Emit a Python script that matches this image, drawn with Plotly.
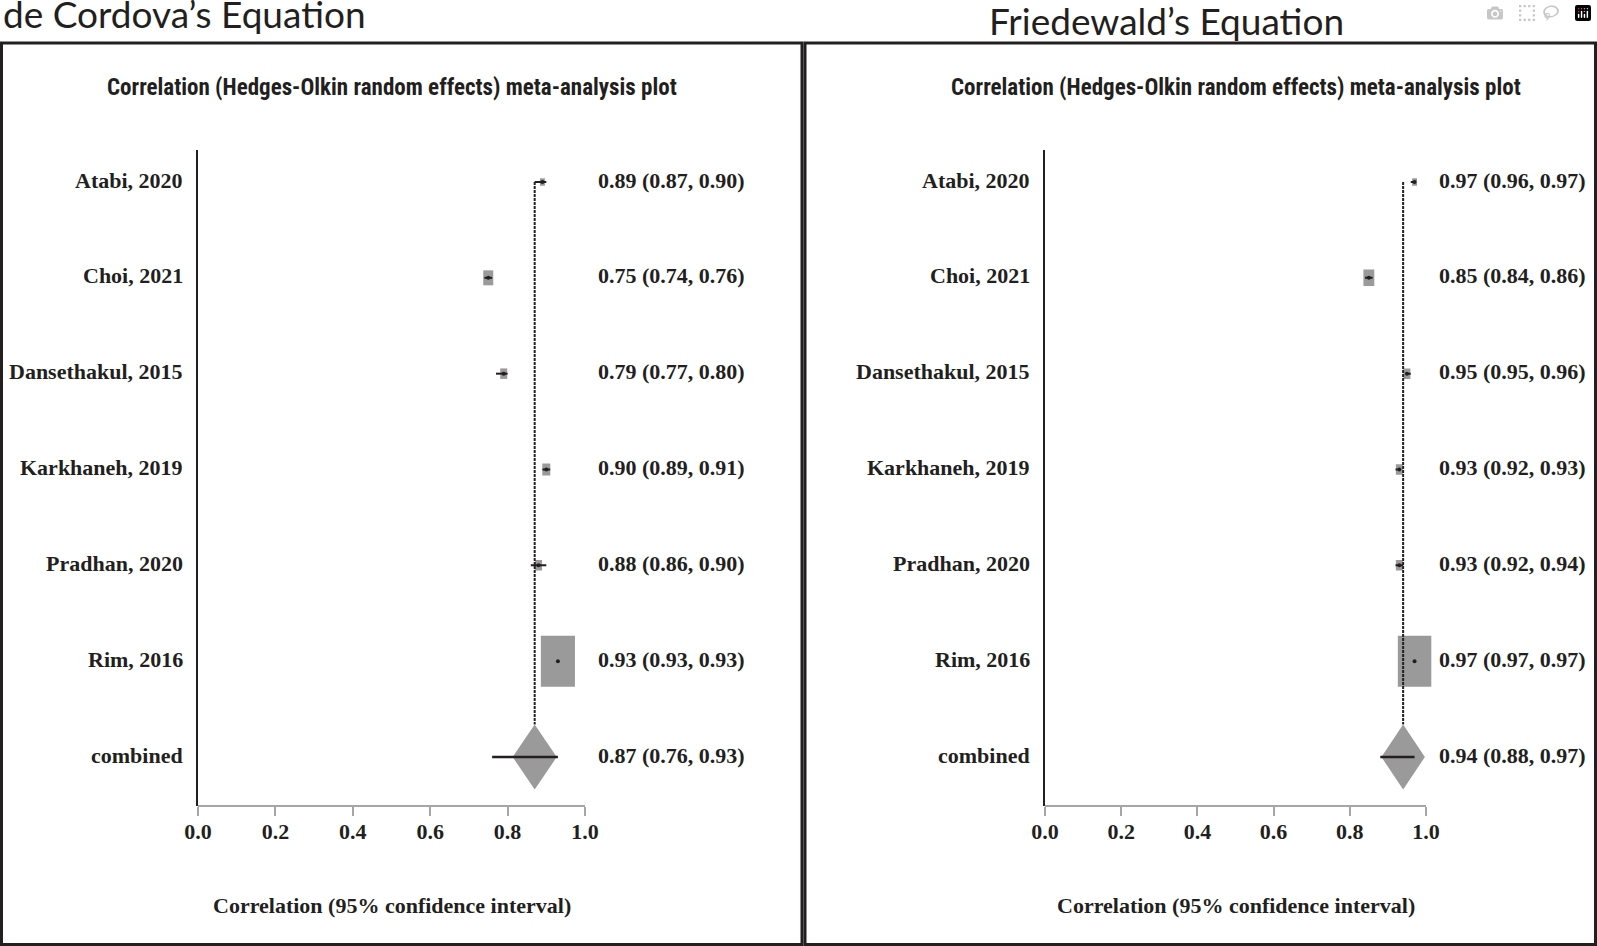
import plotly.graph_objects as go

# study rows (top to bottom), pooled row last
studies = ["Atabi, 2020", "Choi, 2021", "Dansethakul, 2015", "Karkhaneh, 2019", "Pradhan, 2020", "Rim, 2016"]
pooled_label = "combined"

# de Cordova's equation
cordova_r = [0.89, 0.75, 0.79, 0.90, 0.88, 0.93]
cordova_lo = [0.87, 0.74, 0.77, 0.89, 0.86, 0.93]
cordova_hi = [0.90, 0.76, 0.80, 0.91, 0.90, 0.93]
cordova_weight = [1.7, 6.9, 3.4, 4.4, 3.4, 80.1]
cordova_pooled = [0.87, 0.76, 0.93]

# Friedewald's equation
friedewald_r = [0.97, 0.85, 0.95, 0.93, 0.93, 0.97]
friedewald_lo = [0.96, 0.84, 0.95, 0.92, 0.92, 0.97]
friedewald_hi = [0.97, 0.86, 0.96, 0.93, 0.94, 0.97]
friedewald_weight = [1.7, 8.4, 3.4, 3.4, 3.4, 79.8]
friedewald_pooled = [0.94, 0.88, 0.97]

panel_titles = ["de Cordova\u2019s Equation", "Friedewald\u2019s Equation"]
plot_title = "Correlation (Hedges-Olkin random effects) meta-analysis plot"
x_title = "Correlation (95% confidence interval)"
x_ticks = [0.0, 0.2, 0.4, 0.6, 0.8, 1.0]

W, H = 1597, 946
INK = "#231f20"
GREY = "#9a9a9a"
SERIF = dict(family="Liberation Serif, Times New Roman, serif", size=22, color=INK, weight="bold")


def fmt(r, lo, hi):
    return f"{r:.2f} ({lo:.2f}, {hi:.2f})"


fig = go.Figure()
panels = [
    (cordova_r, cordova_lo, cordova_hi, cordova_weight, cordova_pooled, "x", "y", [198, 585]),
    (friedewald_r, friedewald_lo, friedewald_hi, friedewald_weight, friedewald_pooled, "x2", "y2", [1045, 1426]),
]
n = len(studies)
ypos = list(range(n + 1, 0, -1))  # 7..2 for studies, 1 for combined
row_names = studies + [pooled_label]
shapes = []
annotations = []

for k, (r, lo, hi, wt, pooled, xa, ya, px_span) in enumerate(panels):
    xref, yref = xa, ya
    # vertical dotted line at pooled estimate
    fig.add_trace(go.Scatter(x=[pooled[0], pooled[0]], y=[ypos[0], 1.34], mode="lines",
                             line=dict(color=INK, width=2, dash="3px,1px"),
                             xaxis=xa, yaxis=ya, showlegend=False, hoverinfo="skip"))
    # weight boxes
    for i in range(n):
        s = (wt[i] / 80.0) ** 0.5
        hw, hh = 0.044 * s, 0.266 * s
        shapes.append(dict(type="rect", xref=xref, yref=yref, x0=r[i] - hw, x1=r[i] + hw,
                           y0=ypos[i] - hh, y1=ypos[i] + hh, fillcolor=GREY, line=dict(width=0),
                           layer="below"))
    # confidence intervals
    cx, cy = [], []
    for i in range(n):
        cx += [lo[i], hi[i], None]
        cy += [ypos[i], ypos[i], None]
    fig.add_trace(go.Scatter(x=cx, y=cy, mode="lines", line=dict(color=INK, width=2),
                             xaxis=xa, yaxis=ya, showlegend=False, hoverinfo="skip"))
    # pooled diamond
    p = pooled[0]
    fig.add_trace(go.Scatter(x=[p - 0.057, p, p + 0.057, p, p - 0.057], y=[1, 1.34, 1, 0.66, 1],
                             mode="lines", fill="toself", fillcolor=GREY, line=dict(width=0),
                             xaxis=xa, yaxis=ya, showlegend=False, hoverinfo="skip"))
    fig.add_trace(go.Scatter(x=[pooled[1], pooled[2]], y=[1, 1], mode="lines",
                             line=dict(color=INK, width=2.5),
                             xaxis=xa, yaxis=ya, showlegend=False, hoverinfo="skip"))
    # point estimates
    fig.add_trace(go.Scatter(x=r, y=ypos[:n], mode="markers", marker=dict(color=INK, size=4),
                             xaxis=xa, yaxis=ya, showlegend=False, cliponaxis=False))

    # x axis line from 0 to 1
    shapes.append(dict(type="line", xref=xref, yref="paper", x0=0, x1=1,
                       y0=(H - 806) / H, y1=(H - 806) / H, line=dict(color="#a6a6a6", width=2)))

    # row labels and value text
    labels = [fmt(r[i], lo[i], hi[i]) for i in range(n)] + [fmt(*pooled)]
    for i, t in enumerate(labels):
        annotations.append(dict(text=row_names[i], xref=xref + " domain", yref=yref, x=0, y=ypos[i],
                                xanchor="right", yanchor="middle", xshift=-13, yshift=2,
                                showarrow=False, font=SERIF))
        annotations.append(dict(text=t, xref=xref + " domain", yref=yref, x=1.0 / 1.02, y=ypos[i],
                                xanchor="left", yanchor="middle", xshift=11, yshift=2,
                                showarrow=False, font=SERIF))

    cx_px = (px_span[0] + px_span[1]) / 2
    annotations.append(dict(text=plot_title, xref="paper", yref="paper", x=cx_px / W, y=1 - 88 / H,
                            xanchor="center", yanchor="middle", showarrow=False,
                            font=dict(family="Liberation Sans Narrow, Roboto Condensed, Arial Narrow, sans-serif",
                                      size=23, color=INK, weight="bold")))
    annotations.append(dict(text=x_title, xref="paper", yref="paper", x=cx_px / W, y=1 - 905 / H,
                            xanchor="center", yanchor="middle", showarrow=False, font=SERIF))

# panel headers
annotations.append(dict(text=panel_titles[0], xref="paper", yref="paper", x=1 / W, y=1 - 14 / H,
                        xanchor="left", yanchor="middle", showarrow=False,
                        font=dict(family="Lato, Noto Sans, sans-serif", size=37, color=INK)))
annotations.append(dict(text=panel_titles[1], xref="paper", yref="paper", x=1166 / W, y=1 - 20 / H,
                        xanchor="center", yanchor="middle", showarrow=False,
                        font=dict(family="Lato, Noto Sans, sans-serif", size=37, color=INK)))

# panel frames
for x0, x1 in [(1.5, 802), (805, 1595.5)]:
    shapes.append(dict(type="rect", xref="paper", yref="paper", x0=x0 / W, x1=x1 / W,
                       y0=1.5 / H, y1=1 - 43 / H, line=dict(color=INK, width=3), layer="below"))

y_top, y_bot = 150, 806
px_per_row = (757 - 182) / 6.0
y_range = [1 - (y_bot - 757) / px_per_row, 7 + (182 - y_top) / px_per_row]


def xaxis(span):
    return dict(domain=[span[0] / W, (span[0] + (span[1] - span[0]) * 1.02) / W], range=[0, 1.02],
                tickvals=x_ticks, ticktext=[f"{v:.1f}" for v in x_ticks], showline=False,
                ticks="outside", ticklen=9, tickwidth=2, tickcolor="#a6a6a6", showgrid=False,
                zeroline=False, tickfont=SERIF, ticklabelstandoff=-3, automargin=False,
                fixedrange=True)


def yaxis(anchor):
    return dict(domain=[(H - y_bot) / H, (H - y_top) / H], range=y_range, anchor=anchor,
                showticklabels=False, showline=True, linecolor=INK,
                linewidth=2, ticks="", showgrid=False, zeroline=False,
                automargin=False, fixedrange=True)


fig.update_layout(
    width=W, height=H, margin=dict(l=0, r=0, t=0, b=0, autoexpand=False),
    paper_bgcolor="white", plot_bgcolor="rgba(0,0,0,0)",
    xaxis=dict(xaxis(panels[0][7]), anchor="y"),
    yaxis=yaxis("x"),
    xaxis2=dict(xaxis(panels[1][7]), anchor="y2"),
    yaxis2=yaxis("x2"),
    shapes=shapes, annotations=annotations, showlegend=False,
)

fig.write_html("out.html", post_script="document.body.style.margin='0';")
